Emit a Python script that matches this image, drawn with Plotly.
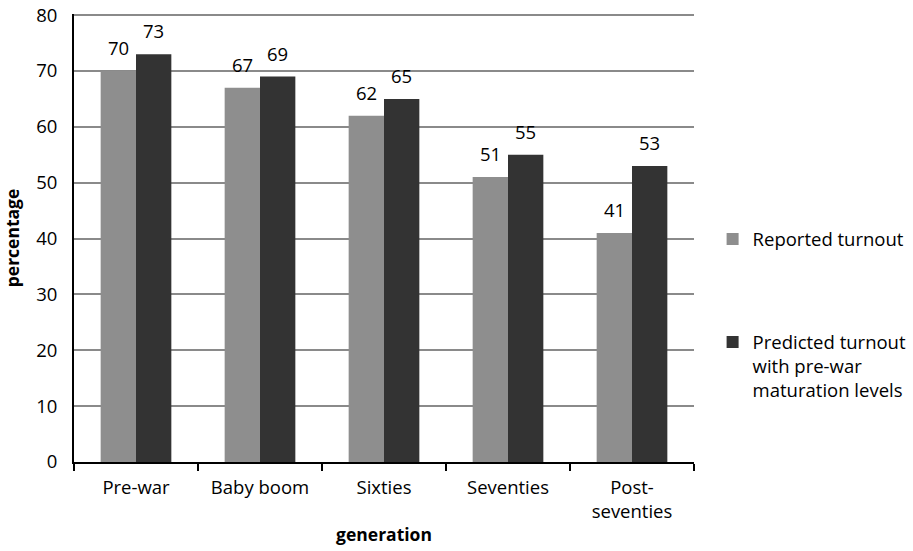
import plotly.graph_objects as go

categories = ["Pre-war", "Baby boom", "Sixties", "Seventies", "Post-<br>seventies"]
reported = [70, 67, 62, 51, 41]
predicted = [73, 69, 65, 55, 53]
series_names = ["Reported turnout", "Predicted turnout<br>with pre-war<br>maturation levels"]
colors = ["#8e8e8e", "#333333"]
y_range = [0, 80.2]

FONT = "Open Sans"
FS = 18.5
W, H = 913, 551

L, R, T, B = 74, W - 694, 14, H - 462
BARGAP = 0.43

fig = go.Figure()
for name, vals, col, grp in [(series_names[0], reported, colors[0], "a"),
                             (series_names[1], predicted, colors[1], "b")]:
    fig.add_trace(go.Bar(x=categories, y=vals, name=name, legendgroup=grp,
                         marker=dict(color=col, line=dict(width=0)),
                         cliponaxis=False))

# value labels above bars
plot_w = W - L - R
cat_w = plot_w / len(categories)
half = cat_w * (1 - BARGAP) / 4
for sign, vals in [(-1, reported), (1, predicted)]:
    for c, v in zip(categories, vals):
        fig.add_annotation(x=c, y=v, text=str(v), showarrow=False,
                           xref="x", yref="y", yanchor="bottom",
                           xshift=sign * half, yshift=9,
                           font=dict(size=FS, color="black", family=FONT))

fig.update_layout(
    width=W, height=H,
    margin=dict(l=L, r=R, t=T, b=B, autoexpand=False),
    plot_bgcolor="white", paper_bgcolor="white",
    barmode="group", bargap=BARGAP, bargroupgap=0,
    font=dict(family=FONT, size=FS, color="black"),
    xaxis=dict(
        title=dict(text="<b>generation</b>", font=dict(size=17.5), standoff=6),
        automargin=False,
        showline=True, linecolor="black", linewidth=2,
        ticks="outside", tickson="boundaries", ticklen=7, tickcolor="black", tickwidth=2,
        ticklabelstandoff=8,
        tickfont=dict(size=FS), showgrid=False,
    ),
    yaxis=dict(
        title=dict(text="<b>percentage</b>", font=dict(size=17.5), standoff=25),
        automargin=False,
        range=y_range, tick0=0, dtick=10,
        showline=True, linecolor="black", linewidth=2,
        ticks="", ticklabelstandoff=11,
        showgrid=True, gridcolor="#8a8a8a", gridwidth=1.5,
        tickfont=dict(size=FS), zeroline=False,
    ),
    legend=dict(x=1.030, y=0.539, xanchor="left", yanchor="top",
                font=dict(size=FS), tracegroupgap=76, valign="top",
                traceorder="grouped",
                itemwidth=30, bgcolor="rgba(0,0,0,0)"),
)

fig.write_html("out.html", config={"displayModeBar": False},
               post_script="document.body.style.margin='0px';")
